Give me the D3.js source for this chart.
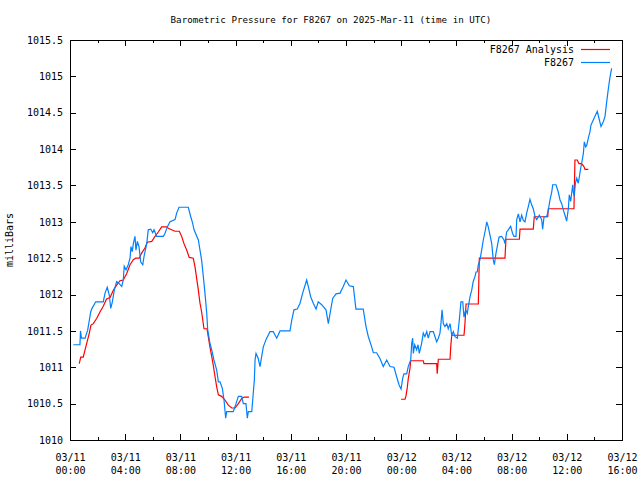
<!DOCTYPE html>
<html><head><meta charset="utf-8">
<script src="https://cdn.jsdelivr.net/npm/d3@7"></script>
<style>
body{margin:0;background:#fff}
text{font-family:"DejaVu Sans Mono","Liberation Mono",monospace;font-size:10px;fill:#000}
</style>
</head><body>
<svg id="c" width="640" height="480"></svg>
<script>
const chartTitle = "Barometric Pressure for F8267 on 2025-Mar-11 (time in UTC)";
const yAxisLabel = "milliBars";
const seriesNames = ["F8267 Analysis", "F8267"];
const seriesColors = ["#ff0000", "#0080ff"];
const startTime = "2025-03-11T00:00:00Z";
const endTime = "2025-03-12T16:00:00Z";
const yTicks = [1010, 1010.5, 1011, 1011.5, 1012, 1012.5, 1013, 1013.5, 1014, 1014.5, 1015, 1015.5];

// F8267 observations: hours after 2025-03-11 00:00 UTC, pressure (mb)
const obsHours = [0.24,0.72,0.76,0.83,1.09,1.28,1.50,1.57,1.86,2.41,2.54,2.70,2.85,2.95,3.07,3.21,3.38,3.57,3.75,3.86,3.93,4.06,4.22,4.35,4.42,4.51,4.59,4.71,4.78,4.88,5.00,5.12,5.27,5.38,5.56,5.67,5.85,5.99,6.09,6.28,6.76,6.88,7.05,7.25,7.61,7.73,7.90,8.57,8.75,8.89,8.99,9.30,9.42,9.54,9.66,9.78,9.91,9.98,10.02,10.14,10.27,10.43,10.63,10.75,10.87,11.04,11.16,11.28,11.35,11.83,12.03,12.20,12.44,12.56,12.75,12.85,12.92,13.17,13.24,13.36,13.41,13.48,13.64,13.77,13.89,14.01,14.20,14.49,14.73,14.98,15.22,15.94,16.07,16.23,16.47,16.67,16.86,17.15,17.27,17.44,17.63,17.83,17.99,18.24,18.55,18.72,18.89,19.04,19.28,19.57,19.80,20.00,20.24,20.53,20.72,21.25,21.45,21.62,21.86,21.98,22.22,22.46,22.70,22.95,23.19,23.48,23.67,23.84,23.99,24.11,24.20,24.40,24.51,24.69,24.76,24.83,24.88,24.98,25.12,25.22,25.31,25.48,25.60,25.72,25.85,25.96,26.09,26.33,26.45,26.57,26.69,26.81,26.88,26.96,27.05,27.17,27.30,27.41,27.54,27.66,27.78,27.90,28.07,28.21,28.33,28.46,28.55,28.67,28.79,28.86,28.99,29.11,29.22,29.35,29.42,29.51,29.59,29.71,29.83,29.95,30.07,30.20,30.31,30.43,30.56,30.67,30.75,30.87,30.96,31.09,31.28,31.45,31.52,31.64,31.76,31.93,32.07,32.17,32.32,32.37,32.49,32.61,32.73,32.85,32.97,33.09,33.21,33.33,33.46,33.57,33.70,33.82,34.01,34.18,34.25,34.35,34.54,34.66,34.78,34.91,34.98,35.22,35.38,35.51,35.63,35.75,35.87,35.99,36.11,36.18,36.28,36.35,36.43,36.47,36.54,36.62,36.72,36.83,36.91,37.01,37.12,37.20,37.27,37.37,37.44,37.56,37.68,37.75,37.92,38.04,38.21,38.36,38.48,38.65,38.77,38.89,39.01,39.13,39.25];
const obsValues = [1011.31,1011.31,1011.50,1011.40,1011.40,1011.51,1011.76,1011.80,1011.90,1011.90,1012.02,1012.10,1011.99,1011.81,1011.90,1012.06,1012.18,1012.15,1012.11,1012.20,1012.39,1012.34,1012.41,1012.50,1012.66,1012.59,1012.70,1012.80,1012.61,1012.73,1012.66,1012.45,1012.41,1012.54,1012.70,1012.89,1012.90,1012.85,1012.89,1012.80,1012.80,1012.84,1012.93,1013.00,1013.03,1013.12,1013.20,1013.20,1013.07,1012.98,1012.89,1012.75,1012.61,1012.47,1012.25,1012.02,1011.74,1011.51,1011.47,1011.33,1011.24,1011.10,1010.96,1010.80,1010.80,1010.71,1010.55,1010.30,1010.39,1010.39,1010.50,1010.60,1010.60,1010.50,1010.50,1010.30,1010.39,1010.39,1010.55,1010.83,1011.10,1011.19,1011.12,1011.01,1011.15,1011.28,1011.38,1011.49,1011.49,1011.40,1011.50,1011.50,1011.65,1011.79,1011.80,1011.88,1012.02,1012.20,1012.11,1011.97,1011.88,1011.80,1011.90,1011.86,1011.79,1011.60,1011.79,1011.95,1012.01,1012.02,1012.11,1012.20,1012.12,1012.11,1011.80,1011.80,1011.56,1011.42,1011.28,1011.20,1011.20,1011.12,1011.01,1011.10,1011.01,1011.00,1010.87,1010.76,1010.70,1010.85,1010.91,1010.91,1011.01,1011.10,1011.33,1011.40,1011.19,1011.31,1011.24,1011.31,1011.19,1011.33,1011.47,1011.42,1011.49,1011.40,1011.49,1011.49,1011.42,1011.35,1011.40,1011.47,1011.60,1011.79,1011.60,1011.56,1011.60,1011.53,1011.60,1011.44,1011.49,1011.42,1011.40,1011.65,1011.90,1011.90,1011.69,1011.79,1011.74,1011.83,1011.97,1012.06,1012.18,1012.25,1012.31,1012.31,1012.41,1012.48,1012.61,1012.75,1012.86,1013.00,1012.93,1012.82,1012.70,1012.48,1012.41,1012.57,1012.66,1012.79,1012.80,1012.75,1012.70,1012.86,1012.89,1012.94,1012.84,1012.80,1012.80,1013.03,1013.11,1013.00,1013.09,1013.02,1013.00,1013.12,1013.21,1013.31,1013.23,1013.18,1013.07,1013.03,1013.09,1013.03,1012.90,1013.07,1013.07,1013.16,1013.30,1013.41,1013.51,1013.51,1013.41,1013.30,1013.25,1013.16,1013.09,1013.01,1013.18,1013.37,1013.28,1013.39,1013.51,1013.41,1013.35,1013.53,1013.60,1013.53,1013.62,1013.74,1013.85,1013.94,1014.10,1014.03,1014.05,1014.15,1014.24,1014.33,1014.40,1014.45,1014.52,1014.40,1014.31,1014.38,1014.45,1014.65,1014.83,1014.99,1015.11];

// F8267 Analysis: hours after 2025-03-11 00:00 UTC, pressure (mb); null = no analysis
const anaHours = [0.67,0.78,0.96,1.09,1.21,1.40,1.52,1.69,1.93,2.17,2.41,2.65,2.90,3.14,3.38,3.62,3.86,4.11,4.35,4.59,4.76,5.02,5.19,5.43,5.60,5.92,6.16,6.40,6.64,7.01,7.12,7.61,7.92,8.09,8.26,8.46,8.64,8.93,9.06,9.18,9.30,9.42,9.54,9.62,9.71,9.93,10.02,10.14,10.27,10.38,10.51,10.63,10.75,10.99,11.23,11.47,11.72,11.96,12.20,12.44,12.63,12.97,18.00,23.99,24.28,24.35,24.44,24.51,24.64,24.69,25.60,25.65,26.57,26.61,26.69,27.54,27.59,27.66,28.55,28.62,28.70,29.59,29.66,31.52,31.59,32.56,32.61,33.57,33.64,34.62,34.66,36.52,36.54,36.59,36.76,36.88,37.07,37.24,37.32,37.56];
const anaValues = [1011.05,1011.14,1011.14,1011.24,1011.33,1011.47,1011.58,1011.60,1011.67,1011.76,1011.84,1011.94,1011.96,1012.06,1012.13,1012.19,1012.20,1012.29,1012.41,1012.48,1012.50,1012.50,1012.57,1012.64,1012.72,1012.73,1012.80,1012.86,1012.93,1012.93,1012.91,1012.87,1012.87,1012.80,1012.70,1012.61,1012.51,1012.50,1012.38,1012.22,1012.06,1011.88,1011.76,1011.65,1011.53,1011.53,1011.42,1011.28,1011.15,1011.03,1010.87,1010.73,1010.62,1010.60,1010.55,1010.48,1010.44,1010.44,1010.50,1010.57,1010.59,1010.59,null,1010.56,1010.56,1010.61,1010.72,1010.84,1010.99,1011.09,1011.09,1011.05,1011.05,1010.91,1011.11,1011.11,1011.28,1011.44,1011.44,1011.60,1011.87,1011.87,1012.50,1012.50,1012.76,1012.76,1012.90,1012.90,1013.07,1013.07,1013.18,1013.18,1013.37,1013.85,1013.85,1013.80,1013.80,1013.76,1013.72,1013.72];

const W = 640, H = 480;
const m = {left: 70, right: 18, top: 40, bottom: 40};
const svg = d3.select("#c");
const t0 = new Date(startTime), t1 = new Date(endTime);
const toDate = h => new Date(t0.getTime() + h * 3600e3);

const x = d3.scaleUtc().domain([t0, t1]).range([m.left, W - m.right]);
const y = d3.scaleLinear().domain([1010, 1015.5]).range([H - m.bottom, m.top]);

const majorT = d3.utcHour.every(4).range(t0, new Date(t1.getTime() + 1));
const minorT = d3.utcHour.every(2).range(t0, t1).filter(d => d.getUTCHours() % 4 !== 0);

const fmtY = d => (d % 1 === 0 ? d3.format("d")(d) : d3.format(".1f")(d));

// frame
svg.append("rect").attr("x", m.left + 0.5).attr("y", m.top + 0.5)
  .attr("width", W - m.left - m.right).attr("height", H - m.top - m.bottom)
  .attr("fill", "none").attr("stroke", "#000").attr("shape-rendering", "crispEdges");

// bottom axis
const gx = svg.append("g").attr("transform", `translate(0,${H - m.bottom})`)
  .call(d3.axisBottom(x).tickValues(majorT).tickSize(-6).tickFormat(() => ""));
gx.select(".domain").remove();
gx.selectAll(".tick").each(function(d) {
  const t = d3.select(this).append("text").attr("text-anchor", "middle").attr("fill", "#000");
  t.append("tspan").attr("x", 0).attr("y", 21).text(d3.utcFormat("%m/%d")(d));
  t.append("tspan").attr("x", 0).attr("y", 34).text(d3.utcFormat("%H:%M")(d));
});
const gxm = svg.append("g").attr("transform", `translate(0,${H - m.bottom})`)
  .call(d3.axisBottom(x).tickValues(minorT).tickSize(-3).tickFormat(() => ""));
gxm.select(".domain").remove();
// top axis (mirror)
const gxt = svg.append("g").attr("transform", `translate(0,${m.top})`)
  .call(d3.axisTop(x).tickValues(majorT).tickSize(-6).tickFormat(() => ""));
gxt.select(".domain").remove();
const gxtm = svg.append("g").attr("transform", `translate(0,${m.top})`)
  .call(d3.axisTop(x).tickValues(minorT).tickSize(-3).tickFormat(() => ""));
gxtm.select(".domain").remove();

// left axis
const gy = svg.append("g").attr("transform", `translate(${m.left},0)`)
  .call(d3.axisLeft(y).tickValues(yTicks).tickSize(-6).tickPadding(7).tickFormat(fmtY));
gy.select(".domain").remove();
// right axis mirror
const gyr = svg.append("g").attr("transform", `translate(${W - m.right},0)`)
  .call(d3.axisRight(y).tickValues(yTicks).tickSize(-6).tickFormat(() => ""));
gyr.select(".domain").remove();
svg.selectAll(".tick line").attr("shape-rendering", "crispEdges");
svg.selectAll(".tick text").attr("font-size", 10).attr("font-family", "DejaVu Sans Mono");

// title and y label
svg.append("text").attr("x", 331).attr("y", 23).attr("text-anchor", "middle")
  .style("font-size", "9.2px").text(chartTitle);
svg.append("text").attr("transform", `translate(13,${(m.top + H - m.bottom) / 2}) rotate(-90)`)
  .attr("text-anchor", "middle").text(yAxisLabel);

// lines
const line = d3.line().defined(d => d.v != null).x(d => x(toDate(d.h))).y(d => y(d.v));
const anaData = anaHours.map((h, i) => ({h, v: anaValues[i]}));
const obsData = obsHours.map((h, i) => ({h, v: obsValues[i]}));
svg.append("path").datum(anaData).attr("d", line).attr("fill", "none")
  .attr("stroke", seriesColors[0]).attr("stroke-width", 1.2);
svg.append("path").datum(obsData).attr("d", line).attr("fill", "none")
  .attr("stroke", seriesColors[1]).attr("stroke-width", 1.2);

// legend
const lg = svg.append("g");
seriesNames.forEach((name, i) => {
  const yy = 49 + i * 13;
  lg.append("text").attr("x", 574).attr("y", yy + 4).attr("text-anchor", "end").text(name);
  lg.append("line").attr("x1", 581).attr("x2", 610).attr("y1", yy + 0.5).attr("y2", yy + 0.5)
    .attr("stroke", seriesColors[i]).attr("stroke-width", 1.2);
});
</script>
</body></html>
